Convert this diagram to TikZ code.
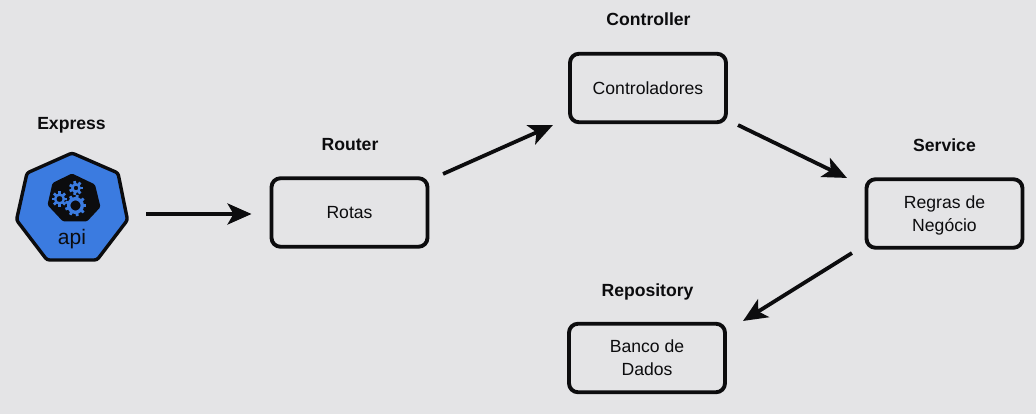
\documentclass[tikz,border=0pt]{standalone}
\usepackage{fontspec}
\setmainfont{Liberation Sans}
\usetikzlibrary{arrows.meta}
\definecolor{bgc}{HTML}{E4E4E6}
\definecolor{ink}{HTML}{0C0C0E}
\definecolor{k8s}{HTML}{3B7BE0}
\tikzset{
  box/.style={draw=ink,line width=3.9pt,rounded corners=9pt,minimum width=156pt,minimum height=68.5pt,align=center,font=\fontsize{17.6}{23}\selectfont,text=ink,inner sep=0pt},
  head/.style={font=\bfseries\fontsize{17.6}{20}\selectfont,text=ink,inner sep=0pt,anchor=base},
  arr/.style={draw=ink,line width=3.8pt,-{Stealth[length=24pt,width=21pt,inset=6pt]}},
}
\newcommand{\mygear}[5]{%
  % x y ring-radius teeth ring-width (numbers)
  \draw[draw=k8s,line width=#5pt] (#1,#2) circle (#3);
  \foreach \a in {1,...,#4}{
    \draw[draw=k8s,line width=2.8pt] ({#1+#3*cos(360*\a/#4)},{#2+#3*sin(360*\a/#4)}) -- ({#1+(#3+#5*0.5+2.2)*cos(360*\a/#4)},{#2+(#3+#5*0.5+2.2)*sin(360*\a/#4)});
  }%
}
\begin{document}
\begin{tikzpicture}[x=1pt,y=-1pt]
\useasboundingbox (0,0) rectangle (1036,414);
\fill[bgc] (0,0) rectangle (1036,414);
% api badge
\draw[draw=ink,fill=k8s,line width=3.4pt,line join=round,rounded corners=2.5pt]
  (72,153) -- (118,173) -- (127.5,220) -- (97,260) -- (47,260) -- (16.5,220) -- (27,173) -- cycle;
\fill[ink,rounded corners=1.5pt] (72,173.5) -- (95,184.5) -- (100.5,207) -- (87,221.5) -- (63,221.5) -- (47.5,205) -- (52.5,183) -- cycle;
\mygear{59.5}{199}{4.4}{8}{2.4}
\mygear{76}{188}{3.6}{7}{2.4}
\mygear{75.5}{205.5}{6.8}{9}{3.4}
\coordinate (apibadge) at (72,214);
\node[inner sep=0pt,text=ink,font=\fontsize{21}{23}\selectfont,anchor=base] (apilabel) at (72,244) {api};
% boxes
\node[box] (rotas) at (349.5,212.5) {Rotas};
\node[box] (ctrl) at (648,88) {Controladores};
\node[box] (regras) at (944.5,213.5) {\rule{0pt}{16pt}Regras de\\Negócio};
\node[box] (banco) at (647,358) {Banco de\\Dados};
% heads
\node[head] (hexpress) at (71.5,130) {Express};
\node[head] (hrouter) at (350,151) {Router};
\node[head] (hctrl) at (648.5,26) {Controller};
\node[head] (hservice) at (944.5,152) {Service};
\node[head] (hrepo) at (647.5,296) {Repository};
% connectors
\draw[arr] ([xshift=74pt]apibadge) -- ([shift={(-18pt,-1.5pt)}]rotas.west);
\draw[arr] ([shift={(13.6pt,2.35pt)}]rotas.north east) -- ([shift={(-15.1pt,-0.85pt)}]ctrl.south west);
\draw[arr] ([shift={(10.1pt,-0.85pt)}]ctrl.south east) -- ([shift={(-17.6pt,-0.65pt)}]regras.north west);
\draw[arr] ([shift={(-12.6pt,-3.35pt)}]regras.south west) -- ([shift={(16.1pt,0.85pt)}]banco.north east);
\end{tikzpicture}
\end{document}
